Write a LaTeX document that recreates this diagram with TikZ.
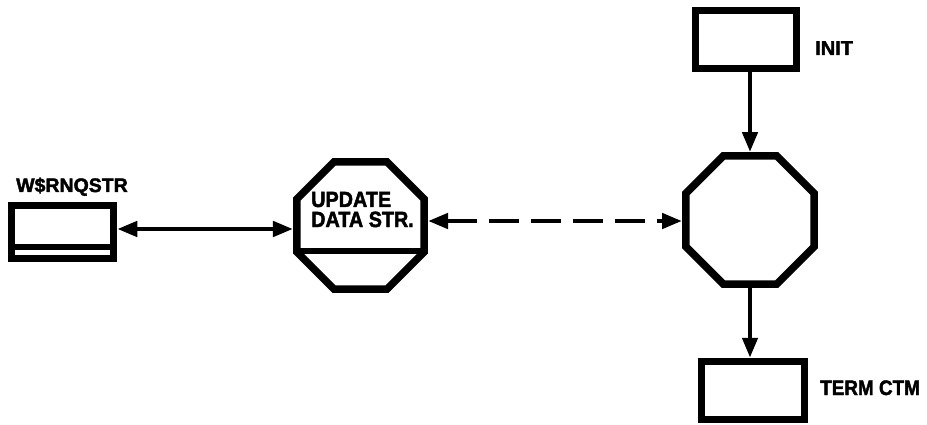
\documentclass[tikz,border=0pt]{standalone}
\usepackage{fontspec}
\setmainfont{Liberation Sans}[FakeBold=2]
\newfontfamily\condfont{Liberation Sans}[FakeStretch=0.9,FakeBold=2]
\usetikzlibrary{shapes.geometric,arrows.meta}
\tikzset{
  boxnode/.style={draw, line width=7.5pt, rectangle, inner sep=0pt},
  octnode/.style={draw, line width=7.5pt, regular polygon, regular polygon sides=8, inner sep=0pt},
  lbl/.style={inner sep=0pt, anchor=base west, font=\bfseries\fontsize{19.5}{22}\selectfont},
  conn/.style={line width=4.5pt, -{Triangle[length=20pt,width=15pt]}},
  dconn/.style={line width=4.5pt, {Triangle[length=20pt,width=15pt]}-{Triangle[length=20pt,width=15pt]}},
}
\begin{document}
\begin{tikzpicture}[x=1pt,y=-1pt]
\useasboundingbox (0,0) rectangle (927,425);
% nodes
\node[boxnode, minimum width=102pt, minimum height=53pt] (wsr) at (62.5,232) {};
\node[boxnode, minimum width=101pt, minimum height=58pt] (init) at (746,39.5) {};
\node[boxnode, minimum width=103pt, minimum height=58pt] (term) at (753,390.5) {};
\node[octnode, minimum size=138pt] (upd) at (360.5,225.5) {};
\node[octnode, minimum size=139pt] (oct) at (750,220) {};
% divider lines
\coordinate (wdiv) at (0,247);
\draw[line width=5.5pt] (wsr.west |- wdiv) -- (wsr.east |- wdiv);
\coordinate (udiv) at (0,251);
\draw[line width=5.5pt] (upd.west |- udiv) -- (upd.east |- udiv);
% labels
\node[lbl] (wsrlbl) at (16,192) {W\$RNQSTR};
\node[lbl, font=\bfseries\fontsize{20}{22}\selectfont] (initlbl) at (815,55) {INIT};
\node[lbl, font=\bfseries\condfont\fontsize{21}{22}\selectfont] (termlbl) at (820,395) {TERM CTM};
\node[lbl, font=\bfseries\condfont\fontsize{22}{22}\selectfont] (updl1) at (311,207) {UPDATE};
\node[lbl, font=\bfseries\condfont\fontsize{22}{22}\selectfont] (updl2) at (311,227) {DATA STR.};
% connectors
\coordinate (lrow) at (0,229);
\draw[dconn] (wsr.east |- lrow) -- (upd.west |- lrow);
\coordinate (drow) at (0,221);
\draw[dconn, dash pattern=on 30pt off 12pt] (upd.east |- drow) -- (oct.west |- drow);
\draw[conn] (oct.north |- init.south) -- (oct.north);
\draw[conn] (oct.south) -- (oct.south |- term.north);
\end{tikzpicture}
\end{document}
